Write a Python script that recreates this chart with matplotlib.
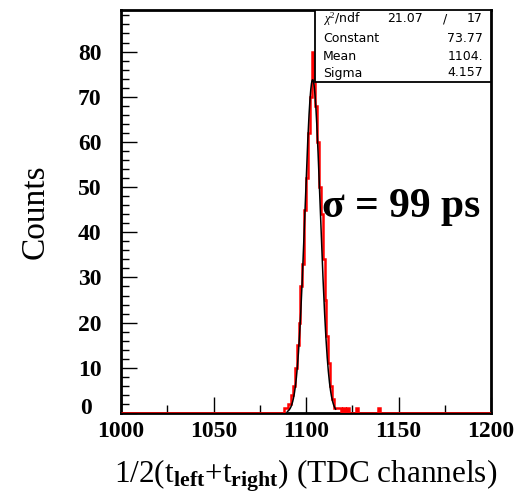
import numpy as np
import matplotlib
matplotlib.use("Agg")
import matplotlib.pyplot as plt
from matplotlib.patches import Rectangle
from matplotlib.ticker import MultipleLocator, FuncFormatter

# histogram content (bin lower edge, 1 TDC channel wide)
hist_channels = [1088, 1089, 1090, 1091, 1092, 1093, 1094, 1095, 1096, 1097,
                 1098, 1099, 1100, 1101, 1102, 1103, 1104, 1105, 1106, 1107,
                 1108, 1109, 1110, 1111, 1112, 1113, 1114, 1115, 1116, 1117,
                 1118, 1120, 1122, 1127, 1139]
hist_counts = [1, 1, 2, 2, 4, 6, 10, 15, 20, 28,
               33, 45, 52, 62, 70, 80, 74, 68, 60, 50,
               44, 34, 25, 17, 11, 6, 3, 1, 1, 1,
               1, 1, 1, 1, 1]

# gaussian fit result (stat box)
fit_constant = 73.77
fit_mean = 1103.6
fit_sigma = 4.157
fit_range = (1090, 1116)
stat_rows = [("$\\chi^2$/ndf", "21.07", "17"),
             ("Constant", "73.77", None),
             ("Mean", "1104.", None),
             ("Sigma", "4.157", None)]

x_range = (1000, 1200)
y_max = 89.2

plt.rcParams["mathtext.fontset"] = "custom"
plt.rcParams["mathtext.rm"] = "Liberation Serif"
plt.rcParams["mathtext.it"] = "Liberation Serif:italic"
plt.rcParams["mathtext.bf"] = "Liberation Serif:bold"

fig = plt.figure(figsize=(5.26, 5.01), dpi=100)
ax = fig.add_axes([121 / 526, 88 / 501, 370 / 526, 403 / 501])

# full histogram, empty bins included
edges = np.arange(x_range[0], x_range[1] + 1)
counts = np.zeros(len(edges) - 1)
for ch, c in zip(hist_channels, hist_counts):
    counts[ch - x_range[0]] = c
ax.stairs(counts, edges, color="red", lw=1.8, zorder=3)

xf = np.linspace(fit_range[0], fit_range[1], 300)
yf = fit_constant * np.exp(-0.5 * ((xf - fit_mean) / fit_sigma) ** 2)
ax.plot(xf, yf, color="black", lw=1.1, zorder=4)

ax.set_xlim(*x_range)
ax.set_ylim(0, y_max)
ax.xaxis.set_major_locator(MultipleLocator(50))
ax.xaxis.set_minor_locator(MultipleLocator(25))
ax.yaxis.set_major_locator(MultipleLocator(10))
ax.yaxis.set_minor_locator(MultipleLocator(2))
# the "0" is drawn separately, ROOT puts it up and left
ax.yaxis.set_major_formatter(FuncFormatter(lambda v, p: "" if v == 0 else f"{v:.0f}"))
ax.tick_params(which="both", direction="in", top=False, right=False, width=1.0)
ax.tick_params(which="major", length=11.5)
ax.tick_params(which="minor", length=5.8)
ax.tick_params(axis="x", pad=6)
ax.tick_params(axis="y", pad=14)
for lab in ax.get_xticklabels() + ax.get_yticklabels():
    lab.set_fontfamily("Liberation Serif")
    lab.set_fontweight("bold")
    lab.set_fontsize(17)
for sp in ax.spines.values():
    sp.set_linewidth(2.0)

to_ax = lambda px, py: ((px - 121) / 370, (413 - py) / 403)

zx, zy = to_ax(92, 409)
ax.text(zx, zy, "0", transform=ax.transAxes, fontfamily="Liberation Serif",
        fontweight="bold", fontsize=17, ha="right", va="center", clip_on=False)

ax.set_ylabel("Counts", fontfamily="Liberation Serif", fontsize=24, labelpad=20)
ax.set_xlabel(r"1/2(t$_{\mathbf{left}}$+t$_{\mathbf{right}}$) (TDC channels)",
              fontfamily="Liberation Serif", fontsize=22.5, labelpad=11)

# stat box
x0, y0 = to_ax(315, 82)
x1, y1 = to_ax(491, 10)
ax.add_patch(Rectangle((x0, y0), x1 - x0, y1 - y0, transform=ax.transAxes,
                       facecolor="white", edgecolor="black", lw=1.3, zorder=5))
row_y = [19, 38, 56, 73]
for (name, val, extra), py in zip(stat_rows, row_y):
    _, ty = to_ax(0, py)
    ax.text(to_ax(323, 0)[0], ty, name, transform=ax.transAxes, fontsize=9,
            fontfamily="DejaVu Sans", va="center", ha="left", zorder=6)
    if extra is None:
        ax.text(to_ax(483, 0)[0], ty, val, transform=ax.transAxes, fontsize=9,
                fontfamily="DejaVu Sans", va="center", ha="right", zorder=6)
    else:
        ax.text(to_ax(423, 0)[0], ty, val, transform=ax.transAxes, fontsize=9,
                fontfamily="DejaVu Sans", va="center", ha="right", zorder=6)
        ax.text(to_ax(445, 0)[0], ty, "/", transform=ax.transAxes, fontsize=9,
                fontfamily="DejaVu Sans", va="center", ha="center", zorder=6)
        ax.text(to_ax(483, 0)[0], ty, extra, transform=ax.transAxes, fontsize=9,
                fontfamily="DejaVu Sans", va="center", ha="right", zorder=6)

sx, sy = to_ax(322, 207)
ax.text(sx, sy, "σ = 99 ps", transform=ax.transAxes, fontfamily="Liberation Serif",
        fontweight="bold", fontsize=30, va="center", ha="left", zorder=6)

fig.savefig("out.png", dpi=100)
